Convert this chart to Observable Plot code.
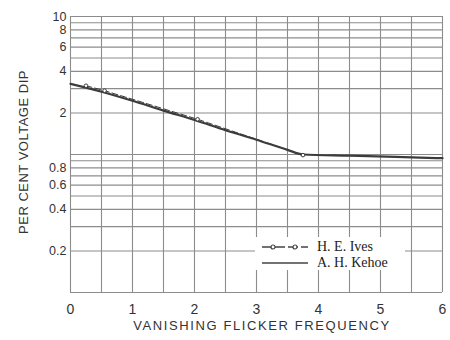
<!DOCTYPE html>
<html><head><meta charset="utf-8">
<script src="https://cdn.jsdelivr.net/npm/d3@7"></script>
<script src="https://cdn.jsdelivr.net/npm/@observablehq/plot@0.6"></script>
<style>
body{margin:0;background:#fff;}
#wrap{position:relative;width:450px;height:340px;overflow:hidden;background:#fff;}
.title{position:absolute;font-family:"Liberation Sans",Arial,sans-serif;color:#333;white-space:nowrap;line-height:1;}
#xtitle{left:0;width:450px;padding-left:74px;box-sizing:border-box;text-align:center;top:319px;font-size:13px;letter-spacing:1.6px;}
#ytitle{left:23px;top:152px;transform-origin:0 0;transform:rotate(-90deg) translate(-50%,-50%);font-size:13px;letter-spacing:0.5px;}
#legend{position:absolute;left:255px;top:237px;width:150px;height:33px;background:#fff;font-family:"Liberation Serif","Times New Roman",serif;font-size:14px;color:#222;}
#legend .row{position:absolute;left:6px;height:16px;display:flex;align-items:center;}
#legend .row span{margin-left:8px;}
</style></head><body>
<div id="wrap">
<div id="legend">
  <div class="row" style="top:2px"><svg width="48" height="10"><line x1="1" y1="5" x2="47" y2="5" stroke="#444" stroke-width="1.3" stroke-dasharray="10,3"/><circle cx="12" cy="5" r="2" fill="#fff" stroke="#444" stroke-width="1.2"/><circle cx="34" cy="5" r="2" fill="#fff" stroke="#444" stroke-width="1.2"/></svg><span>H. E. Ives</span></div>
  <div class="row" style="top:18px"><svg width="48" height="10"><line x1="1" y1="5" x2="47" y2="5" stroke="#444" stroke-width="1.6"/></svg><span>A. H. Kehoe</span></div>
</div>
<div class="title" id="xtitle">VANISHING FLICKER FREQUENCY</div>
<div class="title" id="ytitle">PER CENT VOLTAGE DIP</div>
</div>
<script>
// Kehoe curve (solid)
const kehoeX = [0, 0.5, 1, 1.5, 2, 2.5, 3, 3.5, 3.75, 4.5, 5.25, 6];
const kehoeY = [3.25, 2.85, 2.45, 2.08, 1.78, 1.5, 1.28, 1.08, 1.0, 0.98, 0.96, 0.94];
// Ives observations (open circles, dashed)
const ivesX = [0.25, 0.55, 2.05, 3.75];
const ivesY = [3.15, 2.9, 1.8, 0.99];
// axes
const xTickValues = [0, 1, 2, 3, 4, 5, 6];
const xGridValues = [0, 0.5, 1, 1.5, 2, 2.5, 3, 3.5, 4, 4.5, 5, 5.5, 6];
const yTickValues = [0.2, 0.4, 0.6, 0.8, 2, 4, 6, 8, 10];
const yGridValues = [0.1, 0.2, 0.3, 0.4, 0.5, 0.6, 0.7, 0.8, 0.9, 1, 2, 3, 4, 5, 6, 7, 8, 9, 10];

const kehoe = kehoeX.map((x, i) => ({x, y: kehoeY[i]}));
const ives = ivesX.map((x, i) => ({x, y: ivesY[i]}));

const chart = Plot.plot({
  width: 450,
  height: 340,
  marginLeft: 70,
  marginRight: 8,
  marginTop: 16,
  marginBottom: 48,
  x: {domain: [0, 6]},
  y: {type: "log", domain: [0.1, 10], axis: null},
  style: {fontFamily: "Liberation Sans, Arial, sans-serif", fontSize: "14px", color: "#333", background: "transparent"},
  marks: [
    Plot.ruleX(xGridValues, {stroke: "#8c8c8c", strokeWidth: 1.1}),
    Plot.ruleY(yGridValues, {stroke: "#8c8c8c", strokeWidth: 1.1}),
    Plot.axisX(xTickValues, {tickSize: 0, tickPadding: 12, label: null, tickFormat: d => String(d)}),
    Plot.text(yTickValues, {y: d => d, text: d => String(d), frameAnchor: "left", textAnchor: "end", dx: -4, fill: "#333", fontSize: 12.5}),
    Plot.line(kehoe, {x: "x", y: "y", stroke: "#3c3c3c", strokeWidth: 2.2, curve: "monotone-x"}),
    Plot.line(ives, {x: "x", y: "y", stroke: "#3c3c3c", strokeWidth: 1, strokeDasharray: "6,3"}),
    Plot.dot(ives, {x: "x", y: "y", r: 1.8, fill: "#fff", stroke: "#3c3c3c", strokeWidth: 1})
  ]
});
chart.style.position = "absolute";
chart.style.left = "0";
chart.style.top = "0";
const wrap = document.getElementById("wrap");
wrap.insertBefore(chart, wrap.firstChild);
</script>
</body></html>
